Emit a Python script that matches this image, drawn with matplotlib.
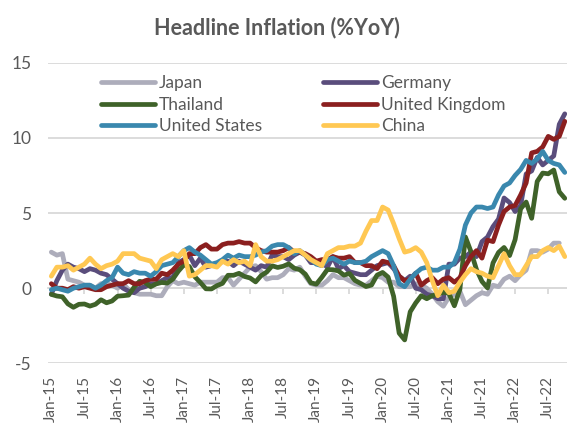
import numpy as np
import pandas as pd
import matplotlib
matplotlib.use("Agg")
import matplotlib.pyplot as plt

plt.rcParams["font.family"] = ["Lato", "DejaVu Sans"]
plt.rcParams["axes.unicode_minus"] = False

months = pd.date_range("2015-01-01", "2022-10-01", freq="MS")

japan = [2.4, 2.2, 2.3, 0.6, 0.5, 0.4, 0.2, 0.2, 0.0, 0.3, 0.3, 0.2,
         0.0, 0.3, -0.1, -0.3, -0.4, -0.4, -0.4, -0.5, -0.5, 0.1, 0.5, 0.3,
         0.4, 0.3, 0.2, 0.4, 0.4, 0.4, 0.4, 0.7, 0.7, 0.2, 0.6, 1.0,
         1.4, 1.5, 1.1, 0.6, 0.7, 0.7, 0.9, 1.3, 1.2, 1.4, 0.8, 0.3,
         0.2, 0.2, 0.5, 0.9, 0.7, 0.7, 0.5, 0.3, 0.2, 0.2, 0.5, 0.8,
         0.7, 0.4, 0.4, 0.1, 0.1, 0.1, 0.3, 0.2, 0.0, -0.4, -0.9, -1.2,
         -0.6, -0.4, -0.2, -1.1, -0.8, -0.5, -0.3, -0.4, 0.2, 0.1, 0.6, 0.8,
         0.5, 0.9, 1.2, 2.5, 2.5, 2.4, 2.6, 3.0, 3.0]

germany = [-0.4, 0.5, 1.2, 1.6, 1.4, 1.3, 1.1, 1.3, 1.2, 1.0, 0.9, 0.6,
           0.3, 0.0, -0.2, -0.3, 0.0, 0.1, 0.3, 0.3, 0.5, 0.7, 0.7, 1.7,
           1.9, 2.2, 1.5, 2.0, 1.4, 1.5, 1.5, 1.8, 1.8, 1.5, 1.8, 1.6,
           1.4, 1.2, 1.5, 1.4, 2.2, 2.1, 2.1, 1.9, 2.2, 2.4, 2.2, 1.7,
           1.7, 1.7, 1.4, 2.1, 1.3, 1.5, 1.1, 1.0, 0.9, 0.9, 1.2, 1.5,
           1.6, 1.7, 1.3, 0.8, 0.5, 0.8, 0.0, -0.1, -0.4, -0.5, -0.7, -0.7,
           1.6, 1.6, 2.0, 2.1, 2.4, 2.1, 3.1, 3.4, 4.1, 4.6, 6.0, 5.7,
           5.1, 5.5, 7.6, 7.8, 8.7, 8.2, 8.5, 8.8, 10.9, 11.6]

thailand = [-0.41, -0.52, -0.57, -1.04, -1.27, -1.07, -1.05, -1.19, -1.07, -0.77, -0.97, -0.85,
            -0.53, -0.50, -0.46, 0.07, 0.46, 0.38, 0.10, 0.29, 0.38, 0.34, 0.60, 1.13,
            1.55, 1.44, 0.76, 0.38, -0.04, -0.05, 0.17, 0.32, 0.86, 0.86, 0.99, 0.78,
            0.68, 0.42, 0.84, 1.07, 1.49, 1.38, 1.46, 1.62, 1.33, 1.23, 0.94, 0.36,
            0.27, 0.73, 1.24, 1.23, 1.15, 0.87, 0.98, 0.52, 0.32, 0.11, 0.21, 0.87,
            1.05, 0.74, -0.54, -2.99, -3.44, -1.57, -0.98, -0.50, -0.70, -0.50, -0.41, -0.27,
            -0.34, -1.17, -0.08, 3.41, 2.44, 1.25, 0.45, 0.02, 1.68, 2.38, 2.71, 2.17,
            3.23, 5.28, 5.73, 4.65, 7.10, 7.66, 7.61, 7.86, 6.41, 5.98]

uk = [0.3, 0.0, 0.0, -0.1, 0.1, 0.0, 0.1, 0.0, -0.1, -0.1, 0.1, 0.2,
      0.3, 0.3, 0.5, 0.3, 0.3, 0.5, 0.6, 0.6, 1.0, 0.9, 1.2, 1.6,
      1.8, 2.3, 2.3, 2.7, 2.9, 2.6, 2.6, 2.9, 3.0, 3.0, 3.1, 3.0,
      3.0, 2.7, 2.5, 2.4, 2.4, 2.4, 2.5, 2.7, 2.4, 2.4, 2.3, 2.1,
      1.8, 1.9, 1.9, 2.1, 2.0, 2.0, 2.1, 1.7, 1.7, 1.5, 1.5, 1.3,
      1.8, 1.7, 1.5, 0.8, 0.5, 0.6, 1.0, 0.2, 0.5, 0.7, 0.3, 0.6,
      0.7, 0.4, 0.7, 1.5, 2.1, 2.5, 2.0, 3.2, 3.1, 4.2, 5.1, 5.4,
      5.5, 6.2, 7.0, 9.0, 9.1, 9.4, 10.1, 9.9, 10.1, 11.1]

us = [-0.1, 0.0, -0.1, -0.2, 0.0, 0.1, 0.2, 0.2, 0.0, 0.2, 0.5, 0.7,
      1.4, 1.0, 0.9, 1.1, 1.0, 1.0, 0.8, 1.1, 1.5, 1.6, 1.7, 2.1,
      2.5, 2.7, 2.4, 2.2, 1.9, 1.6, 1.7, 1.9, 2.2, 2.0, 2.2, 2.1,
      2.1, 2.2, 2.4, 2.5, 2.8, 2.9, 2.9, 2.7, 2.3, 2.5, 2.2, 1.9,
      1.6, 1.5, 1.9, 2.0, 1.8, 1.6, 1.8, 1.7, 1.7, 1.8, 2.1, 2.3,
      2.5, 2.3, 1.5, 0.3, 0.1, 0.6, 1.0, 1.3, 1.4, 1.2, 1.2, 1.4,
      1.4, 1.7, 2.6, 4.2, 5.0, 5.4, 5.4, 5.3, 5.4, 6.2, 6.8, 7.0,
      7.5, 7.9, 8.5, 8.3, 8.6, 9.1, 8.5, 8.3, 8.2, 7.7]

china = [0.8, 1.4, 1.4, 1.5, 1.2, 1.4, 1.6, 2.0, 1.6, 1.3, 1.5, 1.6,
         1.8, 2.3, 2.3, 2.3, 2.0, 1.9, 1.8, 1.3, 1.9, 2.1, 2.3, 2.1,
         2.5, 0.8, 0.9, 1.2, 1.5, 1.5, 1.4, 1.8, 1.6, 1.9, 1.7, 1.8,
         1.5, 2.9, 2.1, 1.8, 1.8, 1.9, 2.1, 2.3, 2.5, 2.5, 2.2, 1.9,
         1.7, 1.5, 2.3, 2.5, 2.7, 2.7, 2.8, 2.8, 3.0, 3.8, 4.5, 4.5,
         5.4, 5.2, 4.3, 3.3, 2.4, 2.5, 2.7, 2.4, 1.7, 0.5, -0.5, 0.2,
         -0.3, -0.2, 0.4, 0.9, 1.3, 1.1, 1.0, 0.8, 0.7, 1.5, 2.3, 1.5,
         0.9, 0.9, 1.5, 2.1, 2.1, 2.5, 2.7, 2.5, 2.8, 2.1]

names = ["Japan", "Germany", "Thailand", "United Kingdom", "United States", "China"]
series = [japan, germany, thailand, uk, us, china]
colors = ["#ADADBB", "#5A4D7C", "#3F6229", "#8B1F1F", "#3A88AE", "#FFC853"]

fig = plt.figure(figsize=(5.67, 4.28), dpi=100)
ax = fig.add_axes([48 / 567, 0.151, 1 - 48 / 567, 0.7025])

lines = []
for name, vals, c in zip(names, series, colors):
    l, = ax.plot(np.arange(len(vals)), vals, color=c, lw=3.4, label=name,
                 solid_capstyle="round", solid_joinstyle="round", zorder=3)
    lines.append(l)

ax.set_ylim(-5, 15)
ax.set_yticks([-5, 0, 5, 10, 15])
ax.set_xlim(-0.6, 93.4)
ax.yaxis.grid(True, color="#D9D9D9", lw=1.3)
ax.set_axisbelow(True)
for s in ["top", "left", "right"]:
    ax.spines[s].set_visible(False)
ax.spines["bottom"].set_position(("data", 0))
ax.spines["bottom"].set_color("#D9D9D9")
ax.spines["bottom"].set_linewidth(1.3)

tick_pos = np.arange(0, len(months), 6)
ax.set_xticks(tick_pos)
ax.tick_params(axis="x", direction="out", length=4, color="#D9D9D9", width=1.3,
               labelbottom=False)
ax.tick_params(axis="y", length=0, labelsize=12.5, labelcolor="#595959", pad=12)

sec = ax.secondary_xaxis("bottom")
sec.set_xticks(tick_pos)
sec.set_xticklabels(months[::6].strftime("%b-%y"), rotation=90)
sec.tick_params(length=0, labelsize=11, labelcolor="#595959", pad=9)
sec.spines["bottom"].set_visible(False)

# excel fills the legend row by row
order = [0, 2, 4, 1, 3, 5]
ax.legend([lines[i] for i in order], [names[i] for i in order], ncol=2,
          loc="upper left", bbox_to_anchor=(0.102, 0.958), frameon=False,
          fontsize=12.5, handlelength=3.1, handletextpad=0.25, columnspacing=3.5,
          labelspacing=0.32, borderpad=0, borderaxespad=0, labelcolor="#595959")

fig.text(0.488, 0.935, "Headline Inflation (%YoY)", ha="center", va="center",
         fontsize=15.5, fontweight="bold", color="#595959")

fig.savefig("out.png", dpi=100)
